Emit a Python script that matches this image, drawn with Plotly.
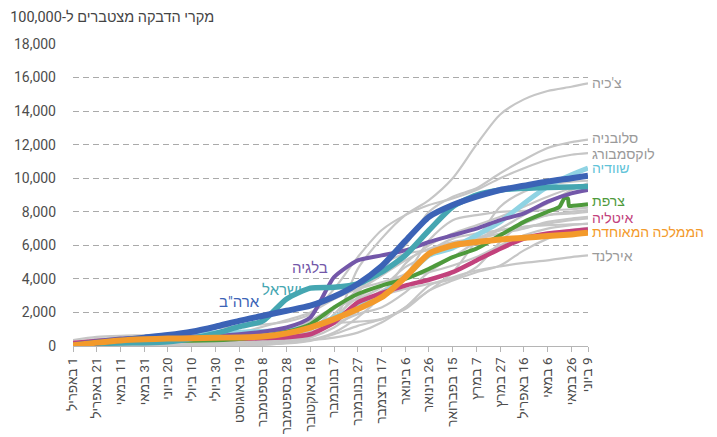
import plotly.graph_objects as go

# tick dates every 20 days, plus the last day
dates = [
    "2020-04-01", "2020-04-21", "2020-05-11", "2020-05-31", "2020-06-20",
    "2020-07-10", "2020-07-30", "2020-08-19", "2020-09-08", "2020-09-28",
    "2020-10-18", "2020-11-07", "2020-11-27", "2020-12-17", "2021-01-06",
    "2021-01-26", "2021-02-15", "2021-03-07", "2021-03-27", "2021-04-16",
    "2021-05-06", "2021-05-26", "2021-06-09",
]
tick_text = [
    "1 באפריל", "21 באפריל", "11 במאי", "31 במאי", "20 ביוני", "10 ביולי",
    "30 ביולי", "19 באוגוסט", "8 בספטמבר", "28 בספטמבר", "18 באוקטובר",
    "7 בנובמבר", "27 בנובמבר", "17 בדצמבר", "6 בינואר", "26 בינואר",
    "15 בפברואר", "7 במרץ", "27 במרץ", "16 באפריל", "6 במאי", "26 במאי",
    "9 ביוני",
]

# highlighted countries (cumulative cases per 100,000)
usa = [50, 200, 350, 500, 650, 850, 1150, 1500, 1800, 2100, 2400, 2950,
       3700, 4750, 6250, 7700, 8400, 8900, 9300, 9550, 9800, 10000, 10150]
israel = [60, 140, 180, 195, 250, 450, 750, 1150, 1500, 2800, 3450, 3500,
          3700, 4400, 5400, 6900, 8300, 9000, 9300, 9400, 9450, 9480, 9500]
belgium = [100, 300, 450, 500, 530, 560, 600, 700, 850, 1100, 1700, 4100,
           5100, 5400, 5700, 6200, 6600, 7000, 7500, 7900, 8600, 9100, 9300]
sweden = [50, 150, 270, 390, 550, 700, 780, 820, 870, 950, 1100, 1700,
          2300, 3100, 4100, 5400, 5850, 6600, 7400, 8500, 9500, 10200, 10600]
italy = [180, 300, 360, 385, 395, 400, 410, 430, 470, 520, 700, 1400,
         2600, 3150, 3600, 3950, 4400, 5100, 5800, 6400, 6700, 6850, 6950]
uk = [50, 200, 330, 400, 440, 460, 490, 510, 560, 750, 1100, 1600,
      2200, 2900, 4100, 5500, 6000, 6200, 6350, 6450, 6550, 6650, 6750]

# France has a reporting jump in late May, so it carries a few extra dates
france_dates = dates[:21] + ["2021-05-16", "2021-05-20", "2021-05-23",
                             "2021-05-24", "2021-05-26", "2021-06-09"]
france = [80, 200, 260, 290, 300, 320, 350, 420, 600, 850, 1300, 2300,
          3100, 3600, 4000, 4600, 5300, 5800, 6600, 7400, 8000,
          8300, 8800, 8800, 8350, 8350, 8450]

# grey countries
czech = [30, 60, 75, 85, 100, 120, 150, 180, 250, 450, 800, 1500,
         4600, 6400, 7800, 8700, 10000, 12000, 13800, 14700, 15200, 15450, 15650]
slovenia = [20, 50, 65, 70, 80, 100, 130, 150, 180, 250, 600, 1900,
            3400, 4800, 6000, 8000, 8900, 9400, 10300, 11100, 11800, 12150, 12300]
luxembourg = [350, 540, 610, 640, 680, 800, 1050, 1180, 1280, 1450, 1900, 3400,
              5300, 6900, 7800, 8400, 8800, 9300, 10000, 10600, 11100, 11400, 11500]
ireland = [60, 300, 460, 510, 520, 525, 535, 570, 650, 800, 1050, 1350,
           1450, 1600, 2300, 3600, 4100, 4500, 4750, 4950, 5100, 5300, 5400]
grey_a = [80, 190, 250, 270, 290, 300, 320, 400, 480, 800, 1500, 2300,
          2800, 3500, 4700, 5400, 5900, 6400, 7000, 7800, 8500, 9300, 9700]
grey_b = [200, 430, 480, 510, 530, 540, 600, 800, 1150, 1550, 2000, 2800,
          3400, 3800, 4300, 5600, 6400, 6700, 6900, 7100, 7300, 7500, 7600]
grey_c = [40, 200, 280, 320, 380, 440, 490, 530, 590, 720, 1000, 1600,
          2500, 3300, 4200, 6300, 7500, 7800, 8000, 8050, 8100, 8150, 8250]
grey_d = [100, 160, 180, 190, 200, 210, 230, 270, 330, 480, 750, 1700,
          2900, 3600, 4100, 4400, 4800, 5300, 6000, 6600, 7000, 7200, 7300]
grey_e = [200, 330, 350, 360, 370, 390, 410, 450, 520, 600, 900, 2200,
          3300, 4200, 5100, 5800, 6200, 6400, 6700, 7000, 7400, 7600, 7700]
grey_f = [20, 40, 50, 60, 65, 70, 80, 90, 120, 180, 350, 800,
          1700, 3000, 4900, 6000, 6700, 7200, 7700, 8300, 8900, 9400, 9600]
grey_g = [5, 20, 35, 40, 45, 50, 55, 60, 80, 200, 500, 1100,
          2100, 3000, 3400, 3700, 4000, 4700, 6200, 7400, 7800, 7900, 8000]
grey_h = [20, 40, 50, 55, 70, 90, 130, 180, 250, 380, 600, 1600,
          3200, 4800, 5500, 5700, 5900, 6100, 6600, 7300, 7800, 8000, 8100]
grey_i = [50, 100, 130, 140, 150, 155, 160, 170, 200, 260, 350, 500,
          800, 1400, 2300, 3300, 4400, 6300, 8300, 9200, 9600, 9800, 9850]
grey_j = [5, 20, 25, 28, 30, 35, 45, 60, 80, 250, 700, 1300,
          1900, 2300, 3200, 4400, 5300, 6200, 6900, 7100, 7200, 7250, 7280]
grey_k = [10, 30, 40, 45, 50, 55, 60, 70, 90, 150, 300, 700,
          1200, 1600, 2200, 3300, 3900, 4400, 4800, 5700, 6400, 6900, 7050]

GREY = "#c6c6c6"
FONT = "Roboto, Liberation Sans, Arial, sans-serif"
RTL = "\u202b{}\u202c"

grey_lines = [czech, slovenia, luxembourg, ireland, grey_a, grey_b, grey_c,
              grey_d, grey_e, grey_f, grey_g, grey_h, grey_i, grey_j, grey_k]

fig = go.Figure()
for values in grey_lines:
    fig.add_trace(go.Scatter(
        x=dates, y=values, mode="lines",
        line=dict(color=GREY, width=2.2, shape="spline", smoothing=0.8),
        hoverinfo="skip",
    ))

highlighted = [
    (dates, sweden, "#8fd3e3", 5),
    (dates, italy, "#c2417c", 4.5),
    (france_dates, france, "#4e9a3c", 4),
    (dates, belgium, "#7357a9", 4),
    (dates, israel, "#45a6b1", 5.5),
    (dates, usa, "#3b63b6", 6),
    (dates, uk, "#f39a2b", 6),
]
for xs, values, color, width in highlighted:
    fig.add_trace(go.Scatter(
        x=xs, y=values, mode="lines",
        line=dict(color=color, width=width, shape="spline", smoothing=0.6),
        hoverinfo="skip",
    ))

# labels at the right end of the lines
end_labels = [
    ("צ'כיה", 15700, "#9a9a9a"),
    ("סלובניה", 12400, "#9a9a9a"),
    ("לוקסמבורג", 11450, "#9a9a9a"),
    ("שוודיה", 10600, "#5fc3d8"),
    ("צרפת", 8650, "#4e9a3c"),
    ("איטליה", 7650, "#c2417c"),
    ("הממלכה המאוחדת", 6780, "#f39a2b"),
    ("אירלנד", 5370, "#9a9a9a"),
]
for text, yv, color in end_labels:
    fig.add_annotation(
        x=dates[-1], y=yv, text=text, showarrow=False,
        xanchor="left", yanchor="middle", xshift=2,
        font=dict(family=FONT, size=14, color=color),
    )

inline_labels = [
    ("בלגיה", "2020-10-18", 4650, "#7357a9"),
    ("ישראל", "2020-09-24", 3340, "#45a6b1"),
    ("ארה\"ב", "2020-08-19", 2620, "#3b63b6"),
]
for text, xv, yv, color in inline_labels:
    fig.add_annotation(
        x=xv, y=yv, text=text, showarrow=False,
        xanchor="center", yanchor="middle",
        font=dict(family=FONT, size=15, color=color),
    )

# the page body adds an 8px offset, so margins are shifted to compensate
fig.update_layout(
    width=717,
    height=437,
    margin=dict(l=65, r=137, t=36, b=99),
    paper_bgcolor="white",
    plot_bgcolor="white",
    showlegend=False,
    font=dict(family=FONT, color="#555555"),
    title=dict(
        text=RTL.format("מקרי הדבקה מצטברים ל-100,000"),
        x=0.003, xanchor="left", y=0.979, yanchor="middle",
        font=dict(family=FONT, size=14.5, color="#444444"),
    ),
)
fig.update_xaxes(
    type="date",
    range=[dates[0], dates[-1]],
    tickvals=dates,
    ticktext=[RTL.format(t) for t in tick_text],
    tickangle=-90,
    tickfont=dict(family=FONT, size=13.5, color="#4d4d4d"),
    showgrid=False,
    showline=True,
    linecolor="#b5b5b5",
    linewidth=1,
    ticks="outside",
    ticklen=5,
    tickcolor="#b5b5b5",
    zeroline=False,
    automargin=False,
)
fig.update_yaxes(
    range=[0, 18000],
    dtick=2000,
    tickformat=",",
    tickfont=dict(family=FONT, size=14, color="#4d4d4d"),
    showgrid=True,
    gridcolor="#aaaaaa",
    griddash="6px,4px",
    gridwidth=1,
    zeroline=False,
    ticks="",
    ticklabelstandoff=16,
    automargin=False,
)

fig.write_html("out.html")
